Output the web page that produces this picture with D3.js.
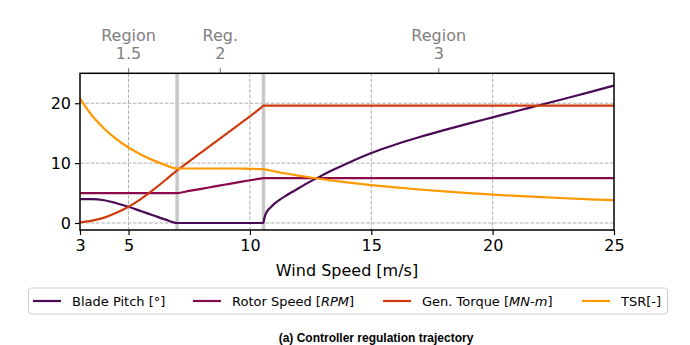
<!DOCTYPE html>
<html>
<head>
<meta charset="utf-8">
<script src="https://cdn.jsdelivr.net/npm/d3@7"></script>
<style>
  html, body { margin: 0; padding: 0; background: #fff; }
  svg { display: block; }
</style>
</head>
<body>
<svg id="chart" width="690" height="345"></svg>
<script>
// ---- data ----
const windSpeed = [3,3.5,4,4.5,5,5.5,6,6.5,7,7.5,8,8.5,9,9.5,10,10.5,10.56,10.6,10.7,10.85,11,11.25,11.5,12,12.5,13,13.5,14,15,16,17,18,19,20,21,22,23,24,25];
const bladePitch = [4.0,4.0,3.8,3.3,2.7,2.0,1.3,0.6,0.0, 0,0,0,0,0,0,0, 0.1,0.9,1.9,2.6,3.2,3.95,4.6,5.8,6.95,8.0,9.0,9.95, 11.7,13.1,14.35,15.5,16.6,17.65,18.7,19.75,20.8,21.85,22.95];
const rotorSpeed = [5,5,5,5,5,5,5,5,5, 5.36,5.71,6.07,6.43,6.79,7.14,7.46,7.5, 7.5,7.5,7.5,7.5,7.5,7.5,7.5,7.5,7.5,7.5,7.5, 7.5,7.5,7.5,7.5,7.5,7.5,7.5,7.5,7.5,7.5,7.5];
const genTorque = [0.1,0.4,0.9,1.7,2.7,4.0,5.5,7.1,8.8, 10.3,11.8,13.3,14.8,16.3,17.8,19.4,19.6, 19.6,19.6,19.6,19.6,19.6,19.6,19.6,19.6,19.6,19.6,19.6, 19.6,19.6,19.6,19.6,19.6,19.6,19.6,19.6,19.6,19.6,19.6];
const tsr = [20.8,17.9,15.75,14.0,12.6,11.45,10.5,9.7,9.1, 9.1,9.1,9.1,9.1,9.1,9.05,9.0,9.0, 8.96,8.88,8.76,8.64,8.44,8.26,7.92,7.6,7.31,7.04,6.79, 6.33,5.94,5.59,5.28,5.0,4.75,4.52,4.32,4.13,3.96,3.8];

const seriesNames = ["Blade Pitch", "Rotor Speed", "Gen. Torque", "TSR"];
const seriesColors = ["#4a0a55", "#8a0a4d", "#cf3a0c", "#ff9900"];

const xTicks = [3,5,10,15,20,25];
const yTicks = [0,10,20];
const regionBounds = [7, 10.56];
const regionTicks = [5, 8.78, 17.78];
const regionLabels = [["Region","1.5"],["Reg.","2"],["Region","3"]];
const xLabel = "Wind Speed [m/s]";
const caption = "(a) Controller regulation trajectory";

// ---- layout ----
const FONT = "'DejaVu Sans', sans-serif";
const svg = d3.select("#chart");
const x = d3.scaleLinear().domain([3,25]).range([80,614]);
const y = d3.scaleLinear().domain([-1.17,25]).range([230,73.3]);
const x0 = 80, x1 = 614, yTop = 73.3, yBot = 230;

// grid
const grid = svg.append("g");
grid.selectAll(".vg").data(xTicks.filter(d => d !== 3 && d !== 25)).join("line")
  .attr("x1", d => x(d)).attr("x2", d => x(d)).attr("y1", yTop).attr("y2", yBot)
  .attr("stroke", "#b0b0b0").attr("stroke-width", 1).attr("stroke-dasharray", "3.7,1.6");
grid.selectAll(".hg").data(yTicks).join("line")
  .attr("x1", x0).attr("x2", x1).attr("y1", d => y(d)).attr("y2", d => y(d))
  .attr("stroke", "#b0b0b0").attr("stroke-width", 1).attr("stroke-dasharray", "3.7,1.6");

// region bands
svg.append("g").selectAll("line").data(regionBounds).join("line")
  .attr("x1", d => x(d)).attr("x2", d => x(d)).attr("y1", yTop).attr("y2", yBot)
  .attr("stroke", "#c8c8c8").attr("stroke-width", 3.5);

// lines
const allSeries = [bladePitch, rotorSpeed, genTorque, tsr];
const line = d3.line().x((d,i) => x(windSpeed[i])).y(d => y(d)).curve(d3.curveMonotoneX);
svg.append("clipPath").attr("id","clip").append("rect")
  .attr("x", x0).attr("y", yTop).attr("width", x1-x0).attr("height", yBot-yTop);
svg.append("g").attr("clip-path","url(#clip)").selectAll("path").data(allSeries).join("path")
  .attr("d", d => line(d)).attr("fill","none")
  .attr("stroke", (d,i) => seriesColors[i]).attr("stroke-width", 2.2)
  .attr("stroke-linejoin","round");

// axes
const xAxis = d3.axisBottom(x).tickValues(xTicks).tickSize(5).tickPadding(5).tickFormat(d3.format("d"));
const gx = svg.append("g").attr("transform", `translate(0,${yBot})`).call(xAxis);
gx.select(".domain").remove();
gx.selectAll("line").attr("stroke","#000").attr("stroke-width",1.2);
gx.selectAll("text").style("font-size","16px").style("font-family",FONT).attr("fill","#000");

const yAxis = d3.axisLeft(y).tickValues(yTicks).tickSize(5).tickPadding(4).tickFormat(d3.format("d"));
const gy = svg.append("g").attr("transform", `translate(${x0},0)`).call(yAxis);
gy.select(".domain").remove();
gy.selectAll("line").attr("stroke","#000").attr("stroke-width",1.2);
gy.selectAll("text").style("font-size","16px").style("font-family",FONT).attr("fill","#000");

// top region axis
const gt = svg.append("g");
gt.selectAll("line").data(regionTicks).join("line")
  .attr("x1", d => x(d)).attr("x2", d => x(d)).attr("y1", yTop).attr("y2", yTop-5)
  .attr("stroke","#808080").attr("stroke-width",1.2);
regionTicks.forEach((t,i) => {
  const tx = gt.append("text").attr("x", x(t)).attr("text-anchor","middle")
    .style("font-size","16px").style("font-family",FONT).attr("fill","#808080");
  tx.append("tspan").attr("x", x(t)).attr("y", 40.5).text(regionLabels[i][0]);
  tx.append("tspan").attr("x", x(t)).attr("y", 59).text(regionLabels[i][1]);
});

// frame
svg.append("rect").attr("x", x0).attr("y", yTop).attr("width", x1-x0).attr("height", yBot-yTop)
  .attr("fill","none").attr("stroke","#000").attr("stroke-width",1.5);

// x label
svg.append("text").attr("x", (x0+x1)/2).attr("y", 276).attr("text-anchor","middle")
  .style("font-size","16px").style("font-family",FONT).attr("fill","#000").text(xLabel);

// legend
svg.append("rect").attr("x", 28.5).attr("y", 288).attr("width", 639).attr("height", 26)
  .attr("rx", 3).attr("fill","#fff").attr("stroke","#cccccc").attr("stroke-width",1);
const legendX = [33, 193, 383, 582];
const legendParts = [
  [["Blade Pitch [°]", false]],
  [["Rotor Speed [", false],["RPM", true],["]", false]],
  [["Gen. Torque [", false],["MN-m", true],["]", false]],
  [["TSR[-]", false]]
];
legendX.forEach((lx,i) => {
  svg.append("line").attr("x1", lx).attr("x2", lx+28).attr("y1", 301).attr("y2", 301)
    .attr("stroke", seriesColors[i]).attr("stroke-width", 2.2);
  const t = svg.append("text").attr("x", lx+39).attr("y", 305.5)
    .style("font-size","13px").style("font-family",FONT).attr("fill","#000");
  legendParts[i].forEach(p => {
    t.append("tspan").style("font-style", p[1] ? "italic" : "normal").text(p[0]);
  });
});

// caption
svg.append("text").attr("x", 376).attr("y", 342).attr("text-anchor","middle")
  .style("font-family","'Liberation Sans', Arial, sans-serif").style("font-weight","bold")
  .style("font-size","12px").attr("fill","#000").text(caption);
</script>
</body>
</html>
